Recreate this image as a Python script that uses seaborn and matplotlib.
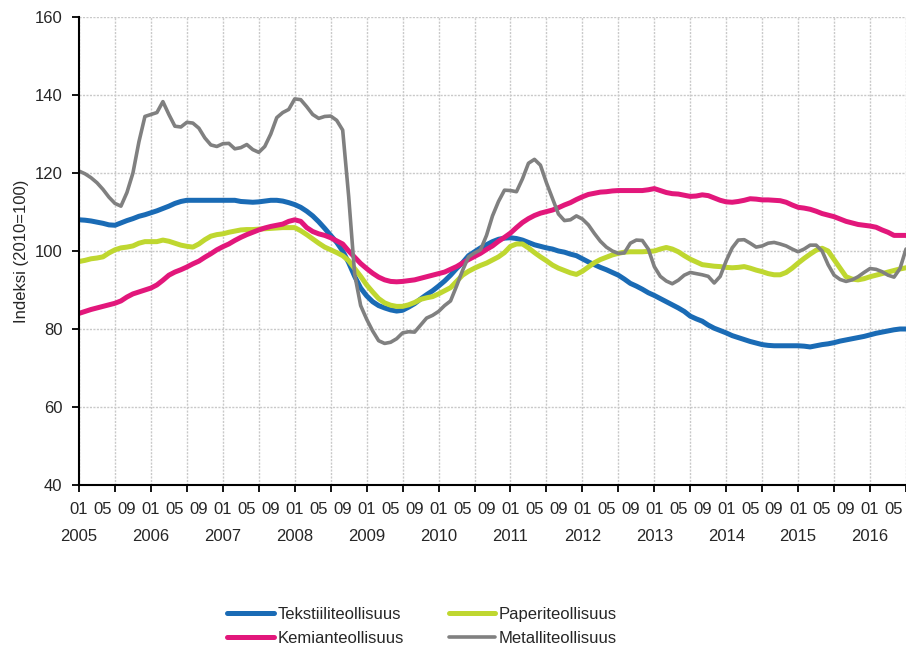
import numpy as np
import matplotlib
matplotlib.use("Agg")
from matplotlib import pyplot as plt
from matplotlib.lines import Line2D
import seaborn as sns

# Monthly index values 2005-01 ... 2016-07 (one row per year)
tekstiili = [
    108.0, 107.9, 107.7, 107.4, 107.1, 106.7, 106.6, 107.2, 107.8, 108.3, 108.9, 109.3,
    109.8, 110.3, 110.9, 111.5, 112.2, 112.7, 113.0, 113.0, 113.0, 113.0, 113.0, 113.0,
    113.0, 113.0, 113.0, 112.7, 112.6, 112.5, 112.6, 112.8, 113.0, 113.0, 112.8, 112.4,
    111.9, 111.2, 110.2, 109.0, 107.5, 105.8, 104.0, 102.2, 100.0, 97.0, 93.5, 90.5,
    88.5, 87.0, 86.0, 85.4, 84.9, 84.6, 84.8, 85.6, 86.5, 87.7, 88.8, 89.8,
    91.0, 92.3, 93.8, 95.5, 97.0, 98.8, 99.8, 100.8, 101.6, 102.4, 103.0, 103.3,
    103.4, 103.2, 102.8, 102.2, 101.6, 101.2, 100.8, 100.5, 100.0, 99.7, 99.2, 98.8,
    98.0, 97.2, 96.5, 95.8, 95.2, 94.5, 93.8, 92.8, 91.7, 91.0, 90.2, 89.3,
    88.6, 87.8, 87.0, 86.2, 85.4, 84.5, 83.3, 82.6, 82.0, 81.0, 80.2, 79.6,
    79.0, 78.3, 77.8, 77.3, 76.8, 76.4, 76.0, 75.8, 75.7, 75.7, 75.7, 75.7,
    75.7, 75.6, 75.4, 75.7, 76.0, 76.2, 76.5, 76.9, 77.2, 77.5, 77.8, 78.1,
    78.5, 78.9, 79.2, 79.5, 79.8, 80.0, 80.0,
]
paperi = [
    97.3, 97.6, 98.0, 98.2, 98.5, 99.5, 100.3, 100.8, 101.0, 101.3, 102.0, 102.4,
    102.4, 102.4, 102.8, 102.5, 102.0, 101.5, 101.2, 101.0, 101.8, 102.9, 103.8, 104.2,
    104.4, 104.8, 105.1, 105.4, 105.5, 105.5, 105.6, 105.7, 105.8, 105.9, 106.0, 106.0,
    106.0, 105.2, 104.2, 103.1, 102.0, 101.0, 100.3, 99.6, 98.8, 97.5, 95.5, 93.5,
    91.3, 89.5, 87.8, 86.7, 86.1, 85.8, 85.8, 86.2, 86.8, 87.6, 88.0, 88.3,
    89.0, 89.8, 90.6, 92.2, 93.8, 94.8, 95.6, 96.3, 96.9, 97.7, 98.5, 99.6,
    101.2, 101.8, 101.8, 100.8, 99.6, 98.5, 97.5, 96.4, 95.6, 95.0, 94.4, 94.0,
    94.8, 95.9, 97.0, 97.8, 98.4, 99.0, 99.4, 99.7, 99.8, 99.8, 99.8, 99.9,
    100.0, 100.5, 100.9, 100.5, 99.8, 98.8, 97.9, 97.2, 96.5, 96.3, 96.1, 96.0,
    95.8, 95.7, 95.8, 96.0, 95.6, 95.1, 94.7, 94.2, 93.9, 93.9, 94.5, 95.6,
    96.9, 98.1, 99.2, 100.2, 100.7, 100.0, 97.8, 95.6, 93.4, 92.8, 92.6, 92.9,
    93.4, 93.8, 94.2, 94.6, 95.0, 95.4, 95.7,
]
kemian = [
    84.0, 84.5, 85.0, 85.4, 85.8, 86.2, 86.6, 87.2, 88.2, 89.0, 89.5, 90.0,
    90.5, 91.3, 92.5, 93.8, 94.6, 95.2, 95.9, 96.7, 97.4, 98.4, 99.3, 100.3,
    101.1, 101.8, 102.7, 103.5, 104.2, 104.8, 105.4, 105.9, 106.3, 106.6, 106.9, 107.6,
    108.0, 107.6, 106.0, 105.0, 104.4, 104.0, 103.4, 102.6, 101.8, 100.0, 98.4, 96.8,
    95.5, 94.3, 93.3, 92.6, 92.2, 92.1, 92.2, 92.4, 92.6, 93.0, 93.4, 93.8,
    94.2, 94.6, 95.3, 96.0, 96.9, 97.8, 98.6, 99.4, 100.4, 101.3, 102.5, 103.5,
    104.6, 106.0, 107.3, 108.3, 109.1, 109.7, 110.1, 110.5, 111.1, 111.8, 112.4, 113.2,
    113.9, 114.5, 114.8, 115.1, 115.2, 115.4, 115.5, 115.5, 115.5, 115.5, 115.5, 115.7,
    116.0, 115.5, 115.0, 114.7, 114.6, 114.3, 114.0, 114.1, 114.4, 114.2, 113.6, 113.0,
    112.6, 112.5, 112.7, 113.0, 113.4, 113.3, 113.1, 113.1, 113.0, 112.9, 112.5, 111.8,
    111.2, 111.0, 110.7, 110.2, 109.6, 109.2, 108.8, 108.2, 107.6, 107.2, 106.8, 106.6,
    106.4, 106.1, 105.4, 104.8, 104.0, 104.0, 104.0,
]
metalli = [
    120.5, 119.8, 118.8, 117.5, 115.8, 113.8, 112.2, 111.5, 115.0, 120.0, 128.0, 134.5,
    135.0, 135.5, 138.3, 135.0, 132.0, 131.8, 133.0, 132.8, 131.5, 129.0, 127.2, 126.8,
    127.5, 127.6, 126.2, 126.5, 127.3, 126.0, 125.3, 126.8, 130.0, 134.2, 135.5, 136.3,
    139.0, 138.8, 137.0, 135.0, 134.0, 134.5, 134.6, 133.5, 131.0, 114.0, 94.0, 86.0,
    82.5, 79.5, 77.0, 76.3, 76.6, 77.5, 79.0, 79.3, 79.2, 81.0, 82.8, 83.5,
    84.5, 86.0, 87.2, 91.0, 95.0, 98.5, 99.5, 100.3, 104.0, 109.0, 112.7, 115.6,
    115.5, 115.2, 118.5, 122.5, 123.5, 122.0, 117.5, 113.5, 109.5, 107.8, 108.0, 109.0,
    108.2, 106.7, 104.5, 102.5, 101.0, 100.0, 99.4, 99.5, 102.0, 102.8, 102.7, 100.5,
    96.0, 93.5, 92.3, 91.6, 92.5, 93.8, 94.5, 94.2, 93.9, 93.5, 91.8, 93.5,
    97.5, 100.8, 102.8, 102.9, 102.0, 101.0, 101.3, 102.0, 102.2, 101.8, 101.3, 100.5,
    99.8, 100.5, 101.5, 101.5, 100.0, 96.5, 93.8, 92.7, 92.2, 92.6, 93.4, 94.5,
    95.5, 95.3, 94.7, 93.8, 93.3, 95.5, 100.5,
]

names = ["Tekstiiliteollisuus", "Paperiteollisuus", "Kemianteollisuus", "Metalliteollisuus"]
colors = ["#1a6bb5", "#bfd730", "#e2177b", "#808080"]
widths = [3.6, 3.6, 3.6, 2.6]
years = list(range(2005, 2017))
label_months = ["01", "05", "09"]

month_idx = np.arange(len(tekstiili))

sns.set_style("white")
plt.rcParams["font.family"] = ["Liberation Sans", "DejaVu Sans"]
plt.rcParams["font.size"] = 12

fig = plt.figure(figsize=(9.06, 6.55), dpi=100)
ax = fig.add_axes([79 / 906, 170 / 655, 827 / 906, 468 / 655])

for series, name, c, w in zip([tekstiili, paperi, kemian, metalli], names, colors, widths):
    sns.lineplot(x=month_idx, y=series, ax=ax, color=c, linewidth=w, label=name, legend=False)

ax.set_xlim(0, len(tekstiili) - 1)
ax.set_ylim(40, 160)
ax.set_yticks(range(40, 161, 20))

# gridlines / tick marks every half year, month labels as minor ticks
ax.xaxis.remove_overlapping_locs = False
ax.set_xticks(range(0, len(tekstiili), 6))
ax.set_xticklabels([])
minor_pos, minor_lab = [], []
for i, y in enumerate(years):
    for j, mo in enumerate(label_months):
        p = 12 * i + 4 * j
        if p < len(tekstiili):
            minor_pos.append(p)
            minor_lab.append(mo)
ax.set_xticks(minor_pos, minor=True)
ax.set_xticklabels(minor_lab, minor=True)

ax.tick_params(axis="x", which="major", length=5, width=1.3, color="black", bottom=True)
ax.tick_params(axis="x", which="minor", length=0, pad=12.5, labelsize=12)
ax.tick_params(axis="y", length=5, width=1.3, color="black", left=True, pad=7, labelsize=12)

# year labels on a second row
sec = ax.secondary_xaxis("bottom")
sec.set_xticks([12 * i for i in range(len(years))])
sec.set_xticklabels([str(y) for y in years])
sec.tick_params(axis="x", length=0, pad=31.5, labelsize=12)
sec.spines["bottom"].set_visible(False)

ax.grid(True, which="major", color="#c9c9c9", linestyle=(0, (1.5, 1)), linewidth=1)
for s in ["top", "right"]:
    ax.spines[s].set_visible(False)
for s in ["left", "bottom"]:
    ax.spines[s].set_color("black")
    ax.spines[s].set_linewidth(1.5)

ax.set_ylabel("Indeksi (2010=100)", fontsize=12, labelpad=4)

handles = [Line2D([], [], color=c, lw=w) for c, w in zip(colors, widths)]
order = [0, 2, 1, 3]
ax.legend([handles[i] for i in order], [names[i] for i in order], ncol=2,
          loc="center", bbox_to_anchor=(0.466, 0.0435), bbox_transform=fig.transFigure,
          frameon=False, fontsize=12, handlelength=2.8, handletextpad=0.2,
          columnspacing=2.7, labelspacing=0.55, borderpad=0)

fig.savefig("out.png", dpi=100)
